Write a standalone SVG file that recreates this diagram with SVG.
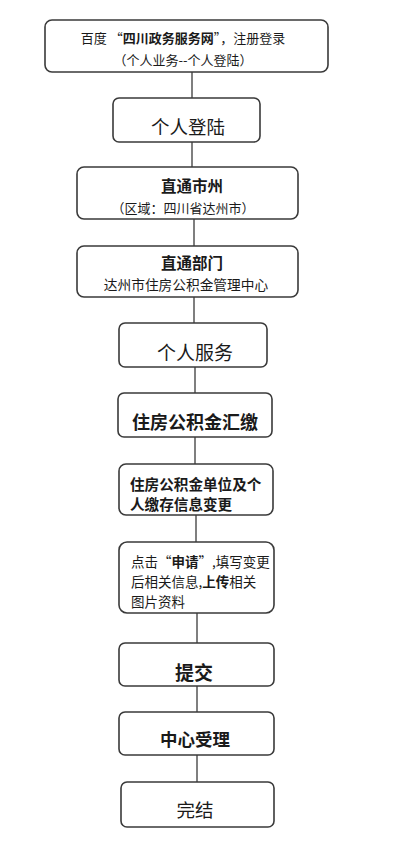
<svg xmlns="http://www.w3.org/2000/svg" width="400" height="841" viewBox="0 0 400 841">
<style>
.box{fill:#fff;stroke:#3a3a3a;stroke-width:1.6}
.ln{stroke:#555;stroke-width:1.5;fill:none}
text{font-family:"Noto Sans CJK SC","Noto Sans",sans-serif;fill:#1a1a1a;text-anchor:middle;dominant-baseline:central}
.b{font-weight:bold}
.l{text-anchor:start}
</style>
<rect width="400" height="841" fill="#fff"/>
<g id="connectors">
<line class="ln" x1="192" y1="72" x2="192" y2="98"/>
<line class="ln" x1="192" y1="142" x2="192" y2="167"/>
<line class="ln" x1="194" y1="219" x2="194" y2="246"/>
<line class="ln" x1="194" y1="297" x2="194" y2="323"/>
<line class="ln" x1="195" y1="367" x2="195" y2="393"/>
<line class="ln" x1="195" y1="437" x2="195" y2="464"/>
<line class="ln" x1="196" y1="515" x2="196" y2="542"/>
<line class="ln" x1="197" y1="613" x2="197" y2="643"/>
<line class="ln" x1="197" y1="686" x2="197" y2="712"/>
<line class="ln" x1="197" y1="755" x2="197" y2="782"/>
</g>
<g id="n1">
<rect class="box" x="45" y="20" width="283" height="52" rx="7"/>
<text x="183" y="37" font-size="13">百度 “<tspan class="b">四川政务服务网</tspan>”，注册登录</text>
<text x="183" y="59" font-size="13">（个人业务--个人登陆）</text>
</g>
<g id="n2">
<rect class="box" x="113" y="98" width="147" height="44" rx="6"/>
<text x="188" y="126" font-size="18.5">个人登陆</text>
</g>
<g id="n3">
<rect class="box" x="77" y="167" width="221" height="52" rx="7"/>
<text x="192" y="185" font-size="15.5" class="b">直通市州</text>
<text x="183" y="207" font-size="13">（区域：四川省达州市）</text>
</g>
<g id="n4">
<rect class="box" x="77" y="246" width="221" height="51" rx="7"/>
<text x="192" y="262" font-size="15.5" class="b">直通部门</text>
<text x="186" y="284" font-size="13.7">达州市住房公积金管理中心</text>
</g>
<g id="n5">
<rect class="box" x="119" y="323" width="148" height="44" rx="6"/>
<text x="195" y="351" font-size="19">个人服务</text>
</g>
<g id="n6">
<rect class="box" x="118" y="393" width="154" height="44" rx="6"/>
<text x="195" y="421" font-size="18" class="b">住房公积金汇缴</text>
</g>
<g id="n7">
<rect class="box" x="119" y="464" width="154" height="51" rx="7"/>
<text x="130" y="483" font-size="14.6" class="b l">住房公积金单位及个</text>
<text x="130" y="503" font-size="14.6" class="b l">人缴存信息变更</text>
</g>
<g id="n8">
<rect class="box" x="119" y="542" width="155" height="71" rx="8"/>
<text x="131" y="561" font-size="13.5" class="l">点击“<tspan class="b">申请</tspan>”,填写变更</text>
<text x="131" y="581" font-size="13.5" class="l">后相关信息,<tspan class="b">上传</tspan>相关</text>
<text x="131" y="601" font-size="13.5" class="l">图片资料</text>
</g>
<g id="n9">
<rect class="box" x="119" y="643" width="155" height="43" rx="6"/>
<text x="194" y="671" font-size="19" class="b">提交</text>
</g>
<g id="n10">
<rect class="box" x="119" y="712" width="155" height="43" rx="6"/>
<text x="195" y="738" font-size="17.5" class="b">中心受理</text>
</g>
<g id="n11">
<rect class="box" x="121" y="782" width="153" height="45" rx="6"/>
<text x="195" y="809" font-size="18.5">完结</text>
</g>
</svg>
